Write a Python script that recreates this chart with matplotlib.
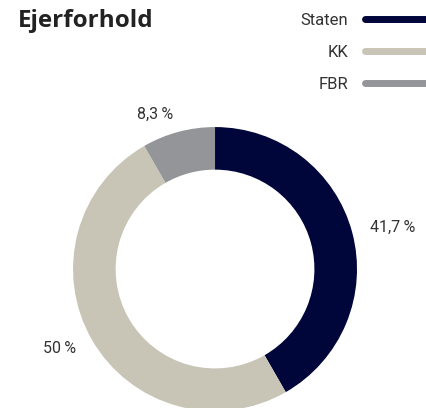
import matplotlib.pyplot as plt
from matplotlib.lines import Line2D

plt.rcParams['font.family'] = ['Roboto', 'DejaVu Sans']

owners = ["Staten", "KK", "FBR"]
shares = [41.7, 50, 8.3]
share_labels = ["41,7\u2009%", "50\u2009%", "8,3\u2009%"]
colors = ["#00053a", "#c8c5b7", "#939598"]

fig = plt.figure(figsize=(4.26, 4.08), dpi=100)
ax = fig.add_axes([0.1714, -0.0074, 0.6667, 0.696])

wedges, texts = ax.pie(shares, labels=share_labels, colors=colors, startangle=90,
                       counterclock=False, labeldistance=1.13,
                       wedgeprops=dict(width=0.3, linewidth=0),
                       textprops=dict(fontsize=11.5, color="#333333",
                                      family=['Roboto', 'DejaVu Sans']))
ax.set_xlim(-1, 1)
ax.set_ylim(-1, 1)
ax.set_aspect("equal")
ax.axis("off")

fig.text(0.042, 0.934, "Ejerforhold", fontsize=17.5, fontweight="bold",
         family=['Open Sans', 'DejaVu Sans'],
         color="#222222", va="baseline", ha="left")

handles = [Line2D([0], [0], color=c, lw=5, solid_capstyle="round") for c in colors]
fig.legend(handles, owners, loc="upper left", bbox_to_anchor=(0.67, 1.005),
           frameon=False, markerfirst=False, handlelength=4.2, handletextpad=1.0,
           labelspacing=1.02, fontsize=12, labelcolor="#333333")

fig.savefig("out.png", dpi=100)
